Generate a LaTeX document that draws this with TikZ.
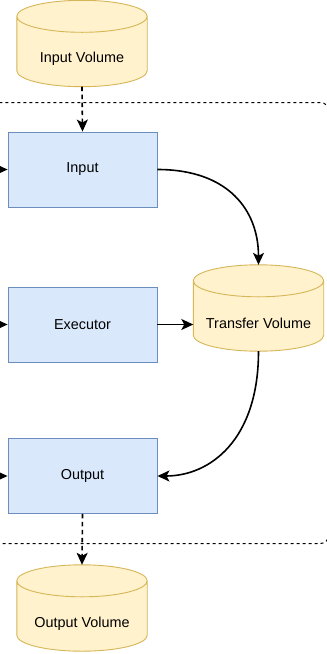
\documentclass[tikz,border=0pt]{standalone}
\usepackage{fontspec}
\setmainfont{Liberation Sans}
\usetikzlibrary{arrows.meta,calc}
\definecolor{bfill}{HTML}{DAE8FC}
\definecolor{bdraw}{HTML}{6C8EBF}
\definecolor{yfill}{HTML}{FFF2CC}
\definecolor{ydraw}{HTML}{D6B656}
\newcommand\drawcyl[1]{%
  \path[cylline] let \p1=(#1.north west), \p2=(#1.south east), \n1={(\x2-\x1)/2} in
   (\x1,\y1-16pt) -- (\x1,\y2+16pt) arc[start angle=180,end angle=360,x radius=\n1,y radius=16pt]
   -- (\x2,\y1-16pt) arc[start angle=0,end angle=180,x radius=\n1,y radius=16pt] -- cycle
   (\x1,\y1-16pt) arc[start angle=180,end angle=360,x radius=\n1,y radius=16pt];
}
\tikzset{
  procbox/.style={rectangle, draw=bdraw, fill=bfill, line width=0.9pt, minimum width=149pt, minimum height=75pt, inner sep=0pt, font=\fontsize{14.4}{17}\selectfont},
  cylnode/.style={rectangle, minimum width=130pt, minimum height=86pt, inner sep=0pt},
  cylline/.style={draw=ydraw, fill=yfill, line width=0.9pt},
  cyltext/.style={font=\fontsize{14.4}{17}\selectfont, inner sep=0pt},
  conn/.style={draw=black, line width=1.6pt, -{Stealth[length=12pt,width=11pt,inset=3pt]}},
  dconn/.style={conn, dash pattern=on 4.5pt off 3.5pt},
  boundary/.style={draw=black, line width=1pt, dash pattern=on 3pt off 3pt, rounded corners=8pt}
}
\begin{document}
\begin{tikzpicture}[x=1pt,y=1pt]
\useasboundingbox (0,0) rectangle (327,-654);
\clip (0,0) rectangle (327,-654);

% boundary
\path[boundary] (-30,-102.5) rectangle (328.5,-543.5);

% process boxes
\node[procbox] (in) at (82.5,-169.5) {Input};
\node[procbox] (ex) at (82.5,-324.5) {Executor};
\node[procbox] (out) at (82.5,-476) {Output};

% cylinders
\node[cylnode] (iv) at (82,-43.5) {};
\drawcyl{iv}
\node[cyltext] (ivt) at ([yshift=-15.5pt]iv.center) {Input Volume};

\node[cylnode] (tv) at (258.5,-308) {};
\drawcyl{tv}
\node[cyltext] (tvt) at ([yshift=-15.5pt]tv.center) {Transfer Volume};

\node[cylnode] (ov) at (82,-608) {};
\drawcyl{ov}
\node[cyltext] (ovt) at ([yshift=-15.5pt]ov.center) {Output Volume};

% left incoming arrows
\coordinate (l1) at (-12,-169.5);
\coordinate (l2) at (-12,-324.5);
\coordinate (l3) at (-12,-476);
\draw[conn] (l1) -- (in.west);
\draw[conn] (l2) -- (ex.west);
\draw[conn] (l3) -- (out.west);

% connectors
\draw[dconn] (iv.south) -- (in.north);
\draw[conn] (in.east) .. controls (228,-169.5) and (258.5,-210) .. (tv.north);
\draw[conn] (ex.east) -- (ex.east -| tv.west);
\draw[conn] (tv.south) .. controls (258.5,-440) and (210,-476) .. (out.east);
\draw[dconn] (out.south) -- (ov.north);
\end{tikzpicture}
\end{document}
